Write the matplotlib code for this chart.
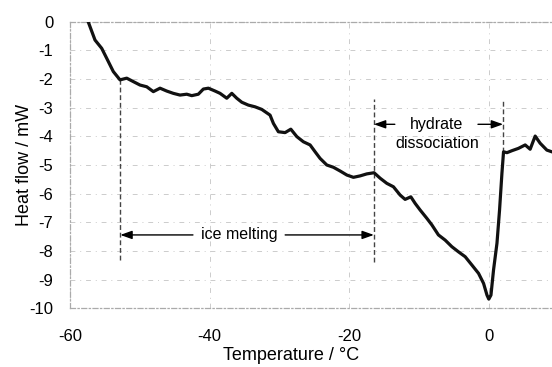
import numpy as np
import matplotlib.pyplot as plt

plt.rcParams['font.family'] = ['Liberation Sans', 'DejaVu Sans']
plt.rcParams['axes.unicode_minus'] = False

# DSC trace: temperature (degC) vs heat flow (mW)
temp = [-57.4, -56.42, -55.46, -54.74, -53.80, -52.84, -51.88, -50.94, -49.98, -49.02,
        -48.07, -47.11, -46.15, -45.21, -44.25, -43.29, -42.57, -41.63, -40.91, -40.19,
        -39.23, -38.52, -37.56, -36.84, -36.13, -35.41, -34.47, -33.51, -32.55, -31.36,
        -30.88, -30.17, -29.21, -28.39, -27.53, -26.59, -25.63, -24.91, -24.20, -23.24,
        -22.29, -21.33, -20.37, -19.43, -18.47, -17.51, -16.47, -15.61, -14.65, -13.70,
        -12.74, -12.03, -11.21, -10.59, -9.88, -8.92, -8.20, -7.26, -6.30, -5.34,
        -4.39, -3.43, -2.47, -1.52, -0.80, -0.31, -0.05, 0.26, 0.63, 1.12,
        1.49, 1.83, 2.06, 2.55, 3.27, 4.19, 5.16, 5.87, 6.59, 7.30,
        8.26, 8.98, 10.0]
heat = [0.0, -0.64, -0.93, -1.28, -1.74, -2.03, -1.97, -2.09, -2.21, -2.27,
        -2.44, -2.32, -2.42, -2.50, -2.56, -2.53, -2.58, -2.53, -2.35, -2.32,
        -2.42, -2.50, -2.67, -2.50, -2.67, -2.81, -2.91, -2.97, -3.06, -3.26,
        -3.55, -3.84, -3.87, -3.75, -4.01, -4.19, -4.30, -4.54, -4.77, -5.00,
        -5.08, -5.21, -5.35, -5.43, -5.38, -5.31, -5.27, -5.46, -5.64, -5.76,
        -6.05, -6.20, -6.11, -6.34, -6.57, -6.86, -7.09, -7.44, -7.62, -7.85,
        -8.03, -8.20, -8.49, -8.78, -9.13, -9.54, -9.68, -9.54, -8.66, -7.73,
        -6.57, -5.29, -4.54, -4.57, -4.50, -4.42, -4.30, -4.45, -3.99, -4.24,
        -4.48, -4.54, -4.60]

# event boundaries (x, y_bottom, y_top)
t_ice_start, t_ice_end, t_hyd_end = -52.8, -16.5, 2.0
marker_lines = [(t_ice_start, -8.3, -2.0), (t_ice_end, -8.4, -2.7), (t_hyd_end, -4.55, -2.75)]

fig = plt.figure(figsize=(5.52, 3.67), dpi=100)
ax = fig.add_axes([70 / 552, 1 - 308.3 / 367, (559 - 70) / 552, (308.3 - 21.7) / 367])

ax.set_xlim(-60, 10)
ax.set_ylim(-10, 0)
ax.set_xticks([-60, -40, -20, 0])
ax.set_yticks(np.arange(-10, 1, 1))
ax.tick_params(length=0, labelsize=12)
ax.tick_params(axis='x', pad=15)
ax.tick_params(axis='y', pad=12)

ax.grid(True, color='#cccccc', lw=0.7, linestyle=(0, (5, 5, 1, 5)))
for s in ax.spines.values():
    s.set_color('#aaaaaa')
    s.set_linewidth(0.9)
    s.set_linestyle((0, (4, 2, 1, 2)))

ax.plot(temp, heat, color='#111111', lw=2.3, solid_joinstyle='round', clip_on=True, zorder=3)

for x, y0, y1 in marker_lines:
    ax.plot([x, x], [y0, y1], color='#444444', lw=1.0, linestyle=(0, (3.5, 2)), zorder=2)

arrow = dict(arrowstyle='-|>,head_length=0.7,head_width=0.25', color='black', lw=1.0,
             shrinkA=0, shrinkB=0)
ax.annotate('', xy=(t_ice_start, -7.44), xytext=(-42.4, -7.44), arrowprops=arrow)
ax.annotate('', xy=(t_ice_end, -7.44), xytext=(-29.2, -7.44), arrowprops=arrow)
ax.text(-35.8, -7.44, 'ice melting', ha='center', va='center', fontsize=11.5)

ax.annotate('', xy=(t_ice_end, -3.58), xytext=(-13.5, -3.58), arrowprops=arrow)
ax.annotate('', xy=(t_hyd_end, -3.58), xytext=(-1.6, -3.58), arrowprops=arrow)
ax.text(-7.5, -3.58, 'hydrate', ha='center', va='center', fontsize=11.5)
ax.text(-7.5, -4.24, 'dissociation', ha='center', va='center', fontsize=11.5)

ax.set_xlabel('Temperature / °C', fontsize=13)
ax.xaxis.set_label_coords((291 - 70) / 489, -0.135)
ax.set_ylabel('Heat flow / mW', fontsize=13)
ax.yaxis.set_label_coords(-0.075, 0.5)

fig.savefig('out.png', dpi=100)
